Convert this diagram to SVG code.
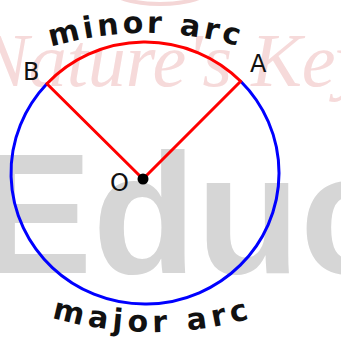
<svg xmlns="http://www.w3.org/2000/svg" width="341" height="338" viewBox="0 0 341 338">
  <defs>
    <style>
      .wm-gray { font-family: "Liberation Sans", Arial, sans-serif; font-weight: bold; font-size: 170px; fill: #d6d6d6; }
      .wm-pink { font-family: "Liberation Serif", "Times New Roman", serif; font-style: italic; font-size: 76px; fill: #f6dada; }
      .minor { fill: none; stroke: #ff0000; stroke-width: 3; }
      .major { fill: none; stroke: #0000ff; stroke-width: 3; }
      .radius { stroke: #ff0000; stroke-width: 3; stroke-linecap: round; }
      .label { font-family: "DejaVu Sans", "Liberation Sans", sans-serif; font-size: 24px; fill: #111111; }
      .arclabel { font-family: "DejaVu Sans", "Liberation Sans", sans-serif; font-weight: bold; font-size: 30px; fill: #111111; }
    </style>
    <path id="minorPath" d="M -184 363 A 330 330 0 0 1 476 363"/>
    <path id="majorPath" d="M -207 -28 A 360 360 0 0 0 513 -28"/>
  </defs>
  <rect width="341" height="338" fill="#ffffff"/>

  <g id="watermark">
    <ellipse cx="160" cy="-12" rx="50" ry="16" fill="none" stroke="#f4d6d6" stroke-width="4"/>
    <text class="wm-pink" x="-22" y="86">Nature's Key</text>
    <text class="wm-gray" x="-21" y="273">Educ</text>
  </g>

  <g id="connectors">
    <path id="minor-arc" class="minor" d="M 46.9 83.8 A 134 131 0 0 1 240.7 81.3"/>
    <path id="major-arc" class="major" d="M 240.7 81.3 A 134 131 0 1 1 46.9 83.8"/>
    <line id="OB" class="radius" x1="143" y1="179" x2="46.9" y2="83.8"/>
    <line id="OA" class="radius" x1="143" y1="179" x2="240.7" y2="81.3"/>
  </g>

  <g id="node-O">
    <circle cx="143" cy="179" r="5.5" fill="#000000"/>
    <text class="label" x="110" y="191">O</text>
  </g>
  <g id="node-B">
    <text class="label" x="23" y="80">B</text>
  </g>
  <g id="node-A">
    <text class="label" x="250" y="72">A</text>
  </g>

  <g id="label-minor">
    <text class="arclabel" letter-spacing="3.5"><textPath href="#minorPath" startOffset="50%" text-anchor="middle">minor arc</textPath></text>
  </g>
  <g id="label-major">
    <text class="arclabel" letter-spacing="5"><textPath href="#majorPath" startOffset="50%" text-anchor="middle">major arc</textPath></text>
  </g>
</svg>
